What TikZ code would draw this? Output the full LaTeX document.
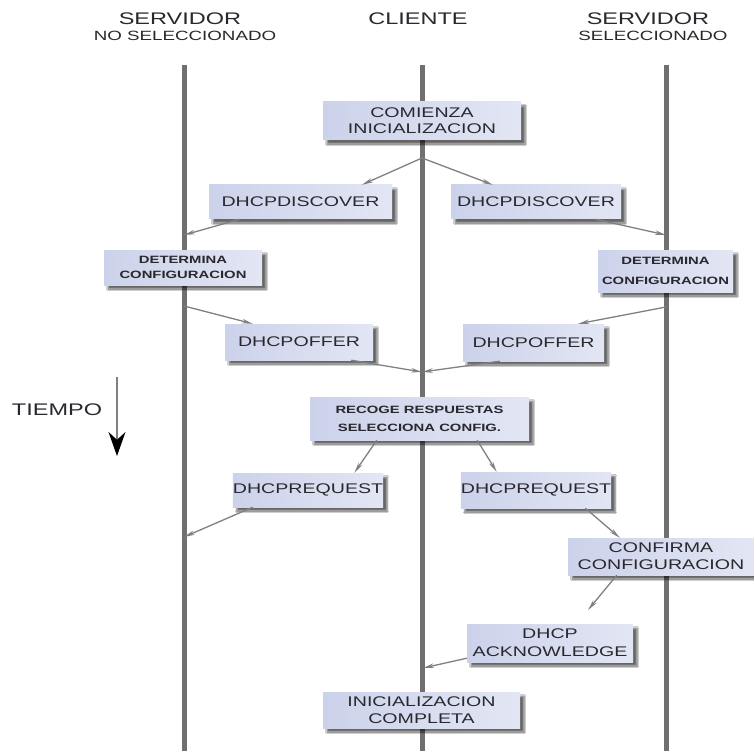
\documentclass[tikz,border=0pt]{standalone}
\usepackage{fontspec}
\newfontfamily\wfont{Liberation Sans}[FakeStretch=1.4]
\usetikzlibrary{arrows.meta,shadows.blur}

\definecolor{boxL}{RGB}{204,210,234}
\definecolor{boxR}{RGB}{226,230,244}
\definecolor{txt}{RGB}{40,40,46}
\definecolor{life}{RGB}{112,112,112}
\definecolor{msg}{RGB}{128,128,128}

\begin{document}
\begin{tikzpicture}[x=1pt,y=-1pt,
  lifeline/.style={draw=life,line width=5pt},
  box/.style={left color=boxL,right color=boxR,inner sep=0pt,align=center,text=txt,
    blur shadow={shadow xshift=4pt,shadow yshift=-4pt,shadow blur steps=6,shadow opacity=60}},
  msgarrow/.style={draw=msg,line width=1.3pt,-{Stealth[open,length=11pt,width=4.5pt]}},
  headtxt/.style={text=txt,inner sep=0pt,font=\wfont\fontsize{16.8}{19}\selectfont},
  subtxt/.style={text=txt,inner sep=0pt,font=\wfont\fontsize{13.4}{15}\selectfont},
  big/.style={font=\wfont\fontsize{14}{#1}\selectfont},
  small/.style={font=\wfont\bfseries\fontsize{10.6}{#1}\selectfont},
]
\fill[white] (0,0) rectangle (754,751);
\useasboundingbox (0,0) rectangle (754,751);

% column headings
\node[headtxt] (hSrvL) at (180,19) {SERVIDOR};
\node[subtxt]  (hNoSel) at (185,36) {NO SELECCIONADO};
\node[headtxt] (hCli) at (418,19) {CLIENTE};
\node[headtxt] (hSrvR) at (648,19) {SERVIDOR};
\node[subtxt]  (hSel) at (653,36) {SELECCIONADO};

% lifelines
\coordinate (lT) at (184,65);  \coordinate (lB) at (184,751);
\coordinate (cT) at (422,65);  \coordinate (cB) at (422,751);
\coordinate (rT) at (666,65);  \coordinate (rB) at (666,751);
\draw[lifeline] (lT) -- (lB);
\draw[lifeline] (cT) -- (cB);
\draw[lifeline] (rT) -- (rB);

% time axis
\node[headtxt] (tiempo) at (57,410) {TIEMPO};
\coordinate (tA) at (117,377);
\coordinate (tB) at (117,456);
\draw[draw=msg,line width=2pt,-{Stealth[black,length=24pt,width=17pt]}] (tA) -- (tB);

% steps
\node[box,big=16,minimum width=198pt,minimum height=38pt] (comienza) at (422,121) {COMIENZA\\INICIALIZACION};
\node[box,big=16,minimum width=183pt,minimum height=34pt] (discL) at (300.5,202) {DHCPDISCOVER};
\node[box,big=16,minimum width=170pt,minimum height=34pt] (discR) at (536,202) {DHCPDISCOVER};
\node[box,small=15,minimum width=158pt,minimum height=35pt] (detL) at (183,267.5) {DETERMINA\\CONFIGURACION};
\node[box,small=20,minimum width=135pt,minimum height=42pt] (detR) at (665.5,271) {DETERMINA\\CONFIGURACION};
\node[box,big=16,minimum width=148pt,minimum height=36pt] (offL) at (299,342) {DHCPOFFER};
\node[box,big=16,minimum width=141pt,minimum height=37pt] (offR) at (533.5,342.5) {DHCPOFFER};
\node[box,small=18,minimum width=219pt,minimum height=43pt] (recoge) at (419.5,418.5) {RECOGE RESPUESTAS\\SELECCIONA CONFIG.};
\node[box,big=16,minimum width=146pt,minimum height=34pt] (reqL) at (308,490) {DHCPREQUEST};
\node[box,big=16,minimum width=144pt,minimum height=36pt] (reqR) at (536,490) {DHCPREQUEST};
\node[box,big=17,minimum width=186pt,minimum height=37pt] (confirma) at (661,556.5) {CONFIRMA\\CONFIGURACION};
\node[box,big=18,minimum width=166pt,minimum height=38pt] (ack) at (550,643) {DHCP\\ACKNOWLEDGE};
\node[box,big=17,minimum width=197pt,minimum height=36pt] (completa) at (421.5,710) {INICIALIZACION\\COMPLETA};

% points on the lifelines where messages leave or arrive
\coordinate (fork) at (422,158);
\coordinate (lDisc) at (184,235);
\coordinate (rDisc) at (666,235);
\coordinate (lOff) at (184,306);
\coordinate (rOff) at (666,307);
\coordinate (cOff) at (422,372);
\coordinate (lReq) at (184,537);
\coordinate (ackEnd) at (588,610);
\coordinate (cAck) at (423,668);

% messages
\draw[msgarrow] (fork) -- ([xshift=153pt]discL.north west);
\draw[msgarrow] (fork) -- ([xshift=42pt]discR.north west);
\draw[msgarrow] ([xshift=31pt]discL.south west) -- (lDisc);
\draw[msgarrow] ([xshift=-26pt]discR.south east) -- (rDisc);
\draw[msgarrow] (lOff) -- ([xshift=28pt]offL.north west);
\draw[msgarrow] (rOff) -- ([xshift=-26pt]offR.north east);
\draw[msgarrow] ([xshift=-22pt]offL.south east) -- (cOff);
\draw[msgarrow] ([xshift=37pt]offR.south west) -- (cOff);
\draw[msgarrow] ([xshift=67pt]recoge.south west) -- ([xshift=-29pt]reqL.north east);
\draw[msgarrow] ([xshift=-52pt]recoge.south east) -- ([xshift=36pt]reqR.north west);
\draw[msgarrow] ([xshift=20pt]reqL.south west) -- (lReq);
\draw[msgarrow] ([xshift=-26pt]reqR.south east) -- ([xshift=52pt]confirma.north west);
\draw[msgarrow] ([xshift=49pt]confirma.south west) -- (ackEnd);
\draw[msgarrow] ([yshift=4pt]ack.south west) -- (cAck);
\end{tikzpicture}
\end{document}
